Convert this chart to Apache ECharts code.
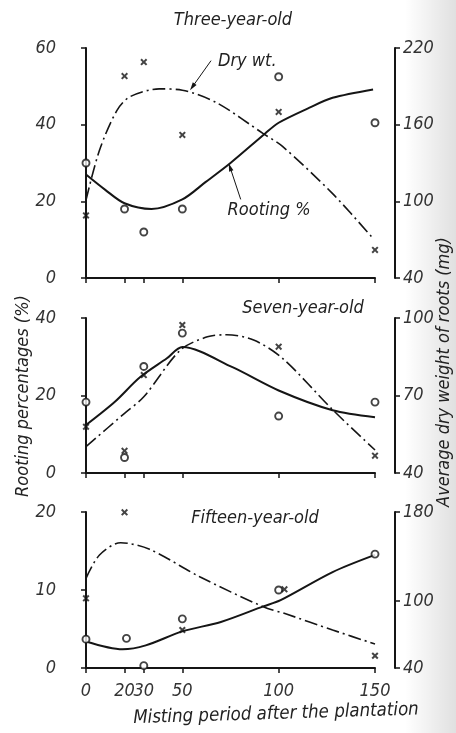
<!DOCTYPE html>
<html><head><meta charset="utf-8">
<script src="https://cdn.jsdelivr.net/npm/echarts@6/dist/echarts.min.js"></script>
<style>html,body{margin:0;padding:0;background:#fff}#c{width:456px;height:733px}</style>
</head><body><div id="c"></div><script>
// ---- data ----
const xTicks = [0, 20, 30, 50, 100, 150];
const obsX = [0, 20, 30, 50, 100, 150];
const panelTitles = ['Three-year-old', 'Seven-year-old', 'Fifteen-year-old'];
// Panel 1 : three-year-old
const p1Rooting = [30, 18, 12, 18, 52.5, 40.5];
const p1DryX = [0, 20, 30, 50, 100, 150];
const p1Dry = [89, 198, 209, 152, 170, 62];
const p1RootCurveX = [0, 10, 20, 34, 50, 62, 75, 93, 100, 115, 128, 149];
const p1RootCurve = [27, 23, 19.5, 18, 20.5, 25, 30, 37.7, 40.5, 44.2, 47, 49.2];
const p1DryCurveX = [0, 7, 16, 23, 38, 50, 68, 92, 102, 128, 149];
const p1DryCurve = [101, 140, 171, 182, 188, 187, 177, 153, 143, 106, 71];
// Panel 2 : seven-year-old
const p2RootX = [0, 20, 30, 50, 100, 150];
const p2Rooting = [18.3, 4.0, 27.5, 36.1, 14.7, 18.3];
const p2DryX = [0, 20, 30, 50, 100, 150];
const p2Dry = [57.9, 48.6, 77.9, 97.3, 88.9, 46.7];
const p2RootCurveX = [0, 15, 28, 42, 50, 76, 100, 128, 150];
const p2RootCurve = [12.4, 18.4, 24.7, 29.6, 32.5, 27.3, 21.3, 16.2, 14.4];
const p2DryCurveX = [0, 20, 30, 49, 63, 73, 87, 102, 128, 150];
const p2DryCurve = [50.2, 63.1, 69.5, 87.6, 92.7, 93.5, 91.5, 84.4, 64.5, 48.9];
// Panel 3 : fifteen-year-old
const p3RootX = [0, 21, 30, 50, 100, 150];
const p3Rooting = [3.7, 3.8, 0.3, 6.3, 10.0, 14.6];
const p3DryX = [0, 20, 50, 103, 150];
const p3Dry = [102.5, 179.7, 74.1, 110.6, 51.0];
const p3RootCurveX = [0, 19, 31, 50, 70, 92, 101, 128, 150];
const p3RootCurve = [3.4, 2.4, 2.9, 4.7, 5.9, 7.9, 8.7, 12.3, 14.5];
const p3DryCurveX = [0, 7, 18, 33, 59, 92, 104, 128, 150];
const p3DryCurve = [120.5, 141.4, 152.4, 146.5, 121.9, 95, 88.4, 74.1, 61.5];
// axes
const leftRanges = [[0, 60], [0, 40], [0, 20]];
const leftTicks = [[0, 20, 40, 60], [0, 20, 40], [0, 10, 20]];
const rightRanges = [[40, 220], [40, 100], [40, 180]];
const rightTicks = [[40, 100, 160, 220], [40, 70, 100], [40, 100, 180]];

// ---- layout ----
const FONT = "'DejaVu Sans Condensed','Liberation Sans Narrow',sans-serif";
const INK = '#151515';
const grids = [
  { left: 86, right: 81, top: 48, height: 230 },
  { left: 86, right: 81, top: 318, height: 155 },
  { left: 86, right: 81, top: 512, height: 156 }
];
const pairs = (xs, ys) => xs.map((x, i) => [x, ys[i]]);
const crossPath = 'path://M0,2L2,0L5,3L8,0L10,2L7,5L10,8L8,10L5,7L2,10L0,8L3,5Z';
const labelStyle = { fontFamily: FONT, fontStyle: 'italic', fontSize: 18, color: '#333' };

const xAxes = grids.map((g, i) => ({
  type: 'value', gridIndex: i, min: 0, max: 150,
  axisLine: { show: true, lineStyle: { color: INK, width: 2 } },
  axisTick: { show: true, inside: false, length: 5, customValues: xTicks, lineStyle: { color: INK, width: 1.5 } },
  axisLabel: Object.assign({ show: i === 2, margin: 14, customValues: xTicks }, labelStyle),
  splitLine: { show: false }
}));
const yAxes = [];
grids.forEach((g, i) => {
  yAxes.push({
    type: 'value', gridIndex: i, position: 'left', offset: 19,
    min: leftRanges[i][0], max: leftRanges[i][1],
    axisLine: { show: true, lineStyle: { color: INK, width: 2 } },
    axisTick: { show: true, length: 5, customValues: leftTicks[i], lineStyle: { color: INK, width: 1.5 } },
    axisLabel: Object.assign({ margin: 11, customValues: leftTicks[i] }, labelStyle),
    splitLine: { show: false }
  });
  yAxes.push({
    type: 'value', gridIndex: i, position: 'right', offset: 20,
    min: rightRanges[i][0], max: rightRanges[i][1],
    axisLine: { show: true, lineStyle: { color: INK, width: 2 } },
    axisTick: { show: true, length: 5, customValues: rightTicks[i], lineStyle: { color: INK, width: 1.5 } },
    axisLabel: Object.assign({ margin: 8, customValues: rightTicks[i] }, labelStyle),
    splitLine: { show: false }
  });
});

const panels = [
  { rx: obsX, r: p1Rooting, dx: p1DryX, d: p1Dry, rcx: p1RootCurveX, rc: p1RootCurve, dcx: p1DryCurveX, dc: p1DryCurve },
  { rx: p2RootX, r: p2Rooting, dx: p2DryX, d: p2Dry, rcx: p2RootCurveX, rc: p2RootCurve, dcx: p2DryCurveX, dc: p2DryCurve },
  { rx: p3RootX, r: p3Rooting, dx: p3DryX, d: p3Dry, rcx: p3RootCurveX, rc: p3RootCurve, dcx: p3DryCurveX, dc: p3DryCurve }
];
const series = [];
panels.forEach((p, i) => {
  series.push({
    name: 'Rooting %', type: 'line', xAxisIndex: i, yAxisIndex: 2 * i, smooth: 0.3,
    symbol: 'none', data: pairs(p.rcx, p.rc), lineStyle: { color: INK, width: 2 }, z: 3
  });
  series.push({
    name: 'Dry wt.', type: 'line', xAxisIndex: i, yAxisIndex: 2 * i + 1, smooth: 0.3,
    symbol: 'none', data: pairs(p.dcx, p.dc), lineStyle: { color: INK, width: 1.6, type: [13, 4, 2, 4] }, z: 3
  });
  series.push({
    name: 'Rooting obs', type: 'scatter', xAxisIndex: i, yAxisIndex: 2 * i, symbol: 'circle', symbolSize: 7,
    data: pairs(p.rx, p.r), itemStyle: { color: '#fff', borderColor: INK, borderWidth: 1.9 }, z: 4, clip: false
  });
  series.push({
    name: 'Dry obs', type: 'scatter', xAxisIndex: i, yAxisIndex: 2 * i + 1, symbol: crossPath, symbolSize: 7,
    data: pairs(p.dx, p.d), itemStyle: { color: INK }, z: 4, clip: false
  });
});

const chart = echarts.init(document.getElementById('c'), null, { renderer: 'canvas' });
chart.setOption({
  animation: false,
  backgroundColor: '#fff',
  grid: grids,
  xAxis: xAxes,
  yAxis: yAxes,
  series: series
});

// ---- annotations (anchored in data coordinates of panel 1, left axis) ----
const toPx = (pt) => chart.convertToPixel({ xAxisIndex: 0, yAxisIndex: 0 }, pt);
const arrows = [
  { from: [64.9, 56.7], to: [54, 49.0] },
  { from: [80.3, 20.5], to: [74.1, 29.9] }
];
const notes = [
  { text: 'Dry wt.', at: [68.5, 56.6] },
  { text: 'Rooting %', at: [73.5, 17.7] }
];
const g = [];
// paper shading at the right edge
g.push({ type: 'rect', z: -10, shape: { x: 405, y: 0, width: 51, height: 733 },
  style: { fill: new echarts.graphic.LinearGradient(0, 0, 1, 0, [
    { offset: 0, color: 'rgba(0,0,0,0)' }, { offset: 1, color: 'rgba(0,0,0,0.12)' }]) } });
arrows.forEach(a => {
  const p0 = toPx(a.from), p1 = toPx(a.to);
  const dx = p1[0] - p0[0], dy = p1[1] - p0[1], L = Math.hypot(dx, dy);
  const ux = dx / L, uy = dy / L, px = -uy, py = ux;
  g.push({ type: 'line', z: 5, shape: { x1: p0[0], y1: p0[1], x2: p1[0] - ux * 4, y2: p1[1] - uy * 4 },
    style: { stroke: INK, lineWidth: 1 } });
  g.push({ type: 'polygon', z: 5, shape: { points: [
    [p1[0], p1[1]],
    [p1[0] - ux * 8 + px * 2.3, p1[1] - uy * 8 + py * 2.3],
    [p1[0] - ux * 8 - px * 2.3, p1[1] - uy * 8 - py * 2.3]] }, style: { fill: INK } });
});
notes.forEach(n => {
  const p = toPx(n.at);
  g.push({ type: 'text', z: 5, x: p[0], y: p[1], style: { text: n.text, fontFamily: FONT, fontStyle: 'italic',
    fontSize: 18, fill: '#222', align: 'left', verticalAlign: 'middle' } });
});
const titlePos = [[233, 20], [303, 308], [255, 518]];
panelTitles.forEach((t, i) => {
  g.push({ type: 'text', z: 5, x: titlePos[i][0], y: titlePos[i][1], style: { text: t, fontFamily: FONT,
    fontStyle: 'italic', fontSize: 18, fill: '#222', align: 'center', verticalAlign: 'middle' } });
});
g.push({ type: 'text', z: 5, x: 23, y: 396, rotation: Math.PI / 2, style: { text: 'Rooting percentages (%)',
  fontFamily: FONT, fontStyle: 'italic', fontSize: 18, fill: '#222', align: 'center', verticalAlign: 'middle' } });
g.push({ type: 'text', z: 5, x: 444, y: 372, rotation: Math.PI / 2, style: { text: 'Average dry weight of roots (mg)',
  fontFamily: FONT, fontStyle: 'italic', fontSize: 18, fill: '#222', align: 'center', verticalAlign: 'middle' } });
g.push({ type: 'text', z: 5, x: 276, y: 714, rotation: 0.03, style: { text: 'Misting period after the plantation',
  fontFamily: FONT, fontStyle: 'italic', fontSize: 18.5, fill: '#222', align: 'center', verticalAlign: 'middle' } });
chart.setOption({ graphic: g });
</script></body></html>
